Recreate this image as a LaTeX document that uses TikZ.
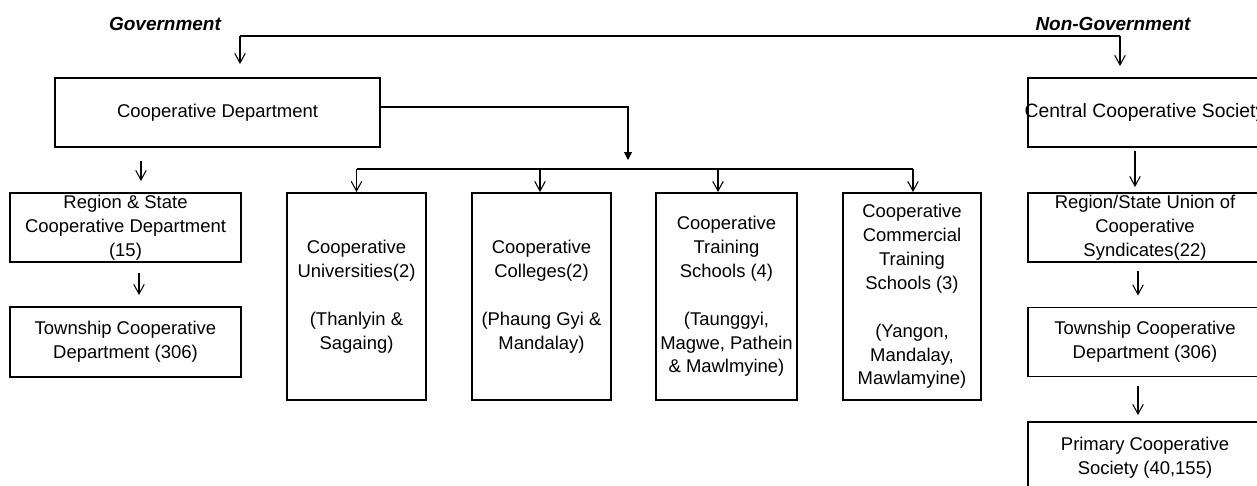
\documentclass[tikz,border=0pt]{standalone}
\usepackage{fontspec}
\setmainfont{Liberation Sans}
\usepackage{tikz}
\usetikzlibrary{arrows.meta}
\newlength{\unitpx}
\setlength{\unitpx}{0.02cm}

\begin{document}
\begin{tikzpicture}[
    x=0.02cm, y=-0.02cm,
    font=\fontsize{10.5}{13.6}\selectfont,
    box/.style={draw, line width=1.1pt, inner sep=0pt, align=center},
    wide/.style={box, minimum width=4.62cm, minimum height=1.38cm},
    tall/.style={box, minimum width=2.78cm, minimum height=4.14cm},
    side/.style={box, minimum width=4.68cm, minimum height=1.38cm},
    head/.style={font=\fontsize{10.8}{12}\selectfont\bfseries\itshape},
    link/.style={line width=0.6pt},
    arr/.style={link, -{Straight Barb[length=5.5pt, width=6pt]}},
    tri/.style={link, -{Triangle[length=4.5pt, width=4.5pt]}}
]
  \useasboundingbox (0,0) rectangle (1257,486);
  \clip (0,0) rectangle (1257,486);

  % --- HEADINGS ---
  \node[head] (gov) at (165,24) {Government};
  \node[head] (ngov) at (1113,24) {Non-Government};
  \coordinate (govL) at (240,36);
  \coordinate (govR) at (1120,36);

  % --- GOVERNMENT SIDE ---
  \node[box, minimum width=6.5cm, minimum height=1.38cm] (cd) at (217.5,112.5) {Cooperative Department};
  \node[wide] (rsd) at (125.5,227.5) {Region \& State\\Cooperative Department\\(15)};
  \node[wide, minimum height=1.4cm] (tcd) at (125.5,342) {Township Cooperative\\Department (306)};

  % --- SCHOOLS ---
  \node[tall] (univ) at (356.5,296.5) {Cooperative\\Universities(2)\\[13.6pt](Thanlyin \&\\Sagaing)};
  \node[tall] (coll) at (541.5,296.5) {Cooperative\\Colleges(2)\\[13.6pt](Phaung Gyi \&\\Mandalay)};
  \node[tall, minimum width=2.82cm] (train) at (726.5,296.5) {Cooperative\\Training\\Schools (4)\\[13.6pt](Taunggyi,\\Magwe, Pathein\\\& Mawlmyine)};
  \node[tall, minimum width=2.76cm] (comm) at (912,296.5) {Cooperative\\Commercial\\Training\\Schools (3)\\[13.6pt](Yangon,\\Mandalay,\\Mawlamyine)};
  \coordinate (bar) at (628,169);

  % --- NON-GOVERNMENT SIDE ---
  \node[side, label={[font=\fontsize{11}{13.6}\selectfont]center:Central Cooperative Society}] (cs) at (1145,112.5) {};
  \node[side] (rsu) at (1145,227.5) {Region/State Union of\\Cooperative\\Syndicates(22)};
  \node[side] (tcdr) at (1145,342) {Township Cooperative\\Department (306)};
  \node[side, minimum height=1.44cm] (pcs) at (1145,458) {Primary Cooperative\\Society (40,155)};

  % --- DRAWING CONNECTORS ---

  % Top split
  \draw[link] (govL) -- (govR);
  \draw[arr, shorten >=13\unitpx] (govL) -- (govL |- cd.north);
  \draw[arr, shorten >=11\unitpx] (govR) -- (govR |- cs.north);

  % Government column
  \coordinate (l1) at ([xshift=15.5\unitpx]rsd.north);
  \coordinate (l2) at ([xshift=13.5\unitpx]tcd.north);
  \draw[arr, shorten <=13\unitpx, shorten >=11\unitpx] (l1 |- cd.south) -- (l1);
  \draw[arr, shorten <=10\unitpx, shorten >=11\unitpx] (l2 |- rsd.south) -- (l2);

  % Department to schools
  \draw[tri] ([yshift=5.5\unitpx]cd.east) -| ([yshift=9\unitpx]bar);
  \draw[link] (univ.north |- bar) -- ([xshift=1\unitpx]comm.north |- bar);
  \foreach \b/\dx in {univ/0, coll/-1.5, train/-8.5, comm/1} {
    \coordinate (drop) at ([xshift=\dx\unitpx]\b.north);
    \draw[arr] (drop |- bar) -- (drop);
  }

  % Non-government column
  \coordinate (r1) at ([xshift=-10\unitpx]rsu.north);
  \coordinate (r2) at ([xshift=-7\unitpx]tcdr.north);
  \coordinate (r3) at ([xshift=-7\unitpx]pcs.north);
  \draw[arr, shorten <=3\unitpx, shorten >=5\unitpx] (r1 |- cs.south) -- (r1);
  \draw[arr, shorten <=8\unitpx, shorten >=11\unitpx] (r2 |- rsu.south) -- (r2);
  \draw[arr, shorten <=9\unitpx, shorten >=6\unitpx] (r3 |- tcdr.south) -- (r3);

\end{tikzpicture}
\end{document}
